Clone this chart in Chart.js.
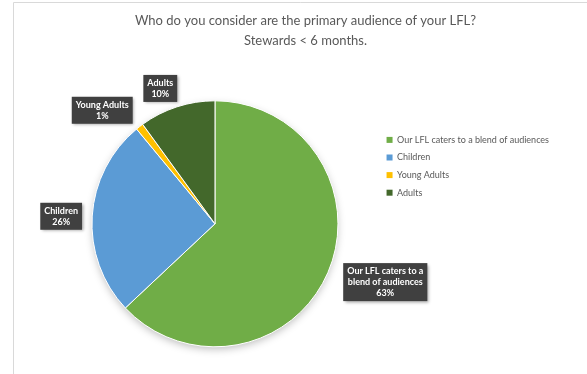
<!DOCTYPE html>
<html>
<head>
<meta charset="utf-8">
<script src="https://cdn.jsdelivr.net/npm/chart.js@4.4.0/dist/chart.umd.min.js"></script>
<style>
  html, body { margin: 0; padding: 0; background: #fff; }
  #wrap { width: 587px; height: 374px; position: relative; }
</style>
</head>
<body>
<div id="wrap"><canvas id="chart"></canvas></div>
<script>
// Data
const categories = ["Our LFL caters to a blend of audiences", "Children", "Young Adults", "Adults"];
const shares = [63, 26, 1, 10];
const calloutLines = [["Our LFL caters to a", "blend of audiences"], ["Children"], ["Young Adults"], ["Adults"]];
const titleLines = ["Who do you consider are the primary audience of your LFL?", "Stewards < 6 months."];
const sliceColors = ["#70AD47", "#5B9BD5", "#FFC000", "#43682B"];

// callout placement: distance past the rim (px) and angle nudge (deg)
const calloutGap = [57, 31, 37, 23];
const calloutTurn = [-4.5, -0.8, -7, -4];

// soft shadow under the whole pie
const pieShadow = {
  id: "pieShadow",
  beforeDatasetsDraw(chart) {
    const arc = chart.getDatasetMeta(0).data[0];
    if (!arc) return;
    const p = arc.getProps(["x", "y", "outerRadius"], true);
    const ctx = chart.ctx;
    ctx.save();
    ctx.shadowColor = "rgba(0,0,0,0.28)";
    ctx.shadowBlur = 9;
    ctx.shadowOffsetY = 3;
    ctx.fillStyle = "#fff";
    ctx.beginPath();
    ctx.arc(p.x, p.y, p.outerRadius - 1, 0, Math.PI * 2);
    ctx.fill();
    ctx.restore();
  }
};

// dark data callouts
const callouts = {
  id: "callouts",
  afterDatasetsDraw(chart) {
    const ctx = chart.ctx;
    chart.getDatasetMeta(0).data.forEach((arc, i) => {
      const p = arc.getProps(["x", "y", "startAngle", "endAngle", "outerRadius"], true);
      const mid = (p.startAngle + p.endAngle) / 2 + calloutTurn[i] * Math.PI / 180;
      const d = p.outerRadius + calloutGap[i];
      const cx = p.x + Math.cos(mid) * d;
      const cy = p.y + Math.sin(mid) * d;
      const lines = calloutLines[i].concat([shares[i] + "%"]);
      ctx.save();
      ctx.font = "bold 9px Lato";
      const lh = 11;
      const w = Math.max(...lines.map(t => ctx.measureText(t).width)) + 8;
      const h = lines.length * lh + 5;
      ctx.shadowColor = "rgba(0,0,0,0.35)";
      ctx.shadowBlur = 3;
      ctx.shadowOffsetX = 1.5;
      ctx.shadowOffsetY = 1.5;
      ctx.fillStyle = "#404040";
      ctx.fillRect(cx - w / 2, cy - h / 2, w, h);
      ctx.shadowColor = "transparent";
      ctx.fillStyle = "#fff";
      ctx.textAlign = "center";
      ctx.textBaseline = "middle";
      lines.forEach((t, k) => ctx.fillText(t, cx, cy - h / 2 + 2.5 + lh * k + lh / 2));
      ctx.restore();
    });
  }
};

// thin frame on the left and top
const frame = {
  id: "frame",
  beforeDraw(chart) {
    const ctx = chart.ctx;
    ctx.save();
    ctx.strokeStyle = "#d9d9d9";
    ctx.lineWidth = 1;
    ctx.beginPath();
    ctx.moveTo(13.5, chart.height);
    ctx.lineTo(13.5, 2.5);
    ctx.lineTo(chart.width, 2.5);
    ctx.stroke();
    ctx.restore();
  }
};

new Chart(document.getElementById("chart"), {
  type: "pie",
  data: {
    labels: categories,
    datasets: [
      {
        data: shares,
        backgroundColor: sliceColors,
        borderColor: "#fff",
        borderWidth: 1,
        radius: 123,
      },
    ],
  },
  options: {
    responsive: true,
    maintainAspectRatio: false,
    animation: false,
    layout: {
      padding: { left: 52, right: 28, top: 0, bottom: 0 },
    },
    plugins: {
      title: {
        display: true,
        text: titleLines,
        color: "#595959",
        font: { family: "Lato", size: 13, weight: "normal", lineHeight: 1.6 },
        padding: { top: 10, bottom: 22 },
      },
      legend: {
        position: "right",
        align: "start",
        // blank legend title only pushes the entries down
        title: {
          display: true,
          text: " ",
          font: { size: 9 },
          padding: { top: 116, bottom: 0 },
        },
        labels: {
          boxWidth: 6,
          boxHeight: 6,
          padding: 8.6,
          color: "#595959",
          font: { family: "Lato", size: 9 },
          generateLabels(chart) {
            return Chart.overrides.doughnut.plugins.legend.labels
              .generateLabels(chart)
              .map((l) => Object.assign(l, { lineWidth: 0 }));
          },
        },
      },
      tooltip: { enabled: false },
    },
  },
  plugins: [pieShadow, callouts, frame],
});
</script>
</body>
</html>
